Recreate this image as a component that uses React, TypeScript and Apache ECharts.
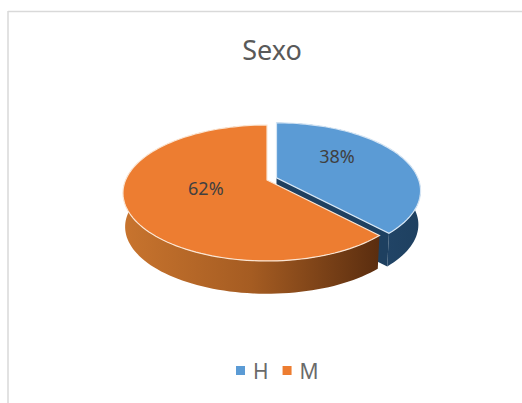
import React, { useEffect, useRef } from "react";
import * as echarts from "echarts";

const chartTitle = "Sexo";
const categories = ["H", "M"];
const shares = [38, 62];
const topColors = ["#5b9bd5", "#ed7d31"];
const labelTexts = ["38%", "62%"];

// projection of the tilted disc
const CX = 267, CY = 180, A = 141.4, B = 65.5, K = 0.191, DEPTH = 34;
const EXPLODE = [[9.5, -2.2], [0, 0]];
const LABEL_NUDGE = [[-3, -10], [7, -4]];

const project = (deg: number, r: number, low: boolean, off: number[]) => {
  const t = (deg * Math.PI) / 180;
  const u = r * Math.sin(t), v = -r * Math.cos(t);
  const d = 1 - K * v;
  const s = low ? 0.985 : 1;
  return [CX + off[0] + (A * u * s) / d, CY + off[1] + (B * v * s) / d + (low ? DEPTH : 0)];
};

const arc = (a: number, b: number, low: boolean, off: number[]) => {
  const pts: number[][] = [];
  const n = Math.ceil(Math.abs(b - a) / 2);
  for (let i = 0; i <= n; i++) pts.push(project(a + ((b - a) * i) / n, 1, low, off));
  return pts;
};

const total = shares.reduce((s, v) => s + v, 0);
const starts = shares.map((_, i) => shares.slice(0, i).reduce((s, v) => s + v, 0));

const sideFill = [
  new echarts.graphic.LinearGradient(0, 0, 1, 0, [
    { offset: 0, color: "#2a5179" },
    { offset: 1, color: "#1e4060" },
  ]),
  new echarts.graphic.LinearGradient(0, 0, 1, 0, [
    { offset: 0, color: "#c8742e" },
    { offset: 0.5, color: "#a55c22" },
    { offset: 1, color: "#5a2d0f" },
  ]),
];
const edgeColor = ["#d6e6f5", "#fbe6d4"];

const renderSlice = (i: number) => (_p: any, api: any) => {
  const a0 = (api.value(0) / total) * 360;
  const a1 = a0 + (api.value(1) / total) * 360;
  const off = EXPLODE[i];
  const apex = project(0, 0, false, off);
  const apexLow = project(0, 0, true, off);
  const top = arc(a0, a1, false, off);
  const side = top.concat(arc(a1, a0, true, off));
  const children: any[] = [
    { type: "polygon", shape: { points: side }, style: { fill: sideFill[i] } },
  ];
  if (i === 0) {
    children.push({
      type: "polygon",
      shape: { points: [apex, project(a1, 1, false, off), project(a1, 1, true, off), apexLow] },
      style: { fill: "#1e4060" },
    });
  }
  children.push({
    type: "polygon",
    shape: { points: [apex, ...top] },
    style: { fill: topColors[i], stroke: edgeColor[i], lineWidth: 1.2 },
  });
  const mid = project((a0 + a1) / 2, 0.5, false, off);
  children.push({
    type: "text",
    style: {
      text: labelTexts[i],
      x: mid[0] + LABEL_NUDGE[i][0],
      y: mid[1] + LABEL_NUDGE[i][1],
      fill: "#404040",
      font: '18px "Noto Sans"',
      align: "center",
      verticalAlign: "middle",
    },
  });
  return { type: "group", children };
};

export default function App() {
  const ref = useRef<HTMLDivElement>(null);
  useEffect(() => {
    const chart = echarts.init(ref.current!, undefined, { renderer: "svg" });
    chart.setOption({
      animation: false,
      backgroundColor: "#ffffff",
      title: {
        text: chartTitle,
        left: 267,
        top: 31,
        textAlign: "center",
        textStyle: { fontFamily: "Noto Sans", fontSize: 27, fontWeight: "normal", color: "#595959" },
      },
      legend: {
        data: categories,
        left: 231,
        top: 355,
        itemWidth: 9,
        itemHeight: 9,
        itemGap: 14,
        icon: "rect",
        textStyle: { fontFamily: "Noto Sans", fontSize: 21, color: "#6a6a6a", padding: [0, 0, 0, 3] },
      },
      graphic: [
        { type: "line", shape: { x1: 8, y1: 11.5, x2: 522, y2: 11.5 }, style: { stroke: "#d9d9d9", lineWidth: 1.5 } },
        { type: "line", shape: { x1: 8, y1: 11, x2: 8, y2: 403 }, style: { stroke: "#d9d9d9", lineWidth: 1.5 } },
      ],
      series: categories.map((name, i) => ({
        type: "custom",
        name,
        coordinateSystem: "none",
        itemStyle: { color: topColors[i] },
        data: [[starts[i], shares[i]]],
        renderItem: renderSlice(i),
      })),
    });
    return () => chart.dispose();
  }, []);
  return <div ref={ref} style={{ position: "fixed", left: 0, top: 0, width: 522, height: 403 }} />;
}
